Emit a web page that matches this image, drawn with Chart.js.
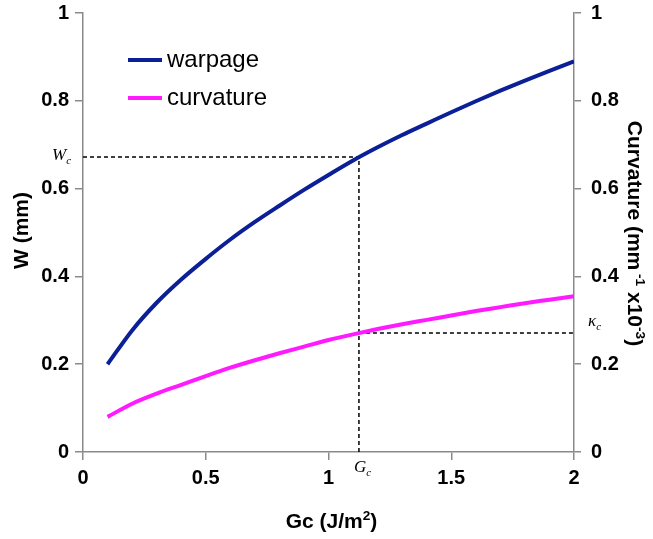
<!DOCTYPE html>
<html lang="en">
<head>
    <meta charset="UTF-8">
    <title>Warpage and curvature vs Gc</title>
    <script src="https://cdn.jsdelivr.net/npm/chart.js"></script>
    <style>
        body { margin: 0; background: #fff; }
    </style>
</head>
<body>
    <canvas id="gcChart" width="653" height="539"></canvas>

    <script>
        // values
        const gc = [0.1, 0.2, 0.3, 0.4, 0.5, 0.6, 0.7, 0.8, 0.9, 1.0,
                    1.1, 1.2, 1.3, 1.4, 1.5, 1.6, 1.7, 1.8, 1.9, 2.0];
        const warpage = [0.20, 0.277, 0.34, 0.393, 0.44, 0.484, 0.524, 0.561, 0.597, 0.631,
                         0.664, 0.694, 0.722, 0.748, 0.774, 0.799, 0.823, 0.846, 0.868, 0.89];
        const curvature = [0.08, 0.11, 0.133, 0.153, 0.173, 0.192, 0.209, 0.225, 0.24, 0.255,
                           0.268, 0.28, 0.291, 0.301, 0.311, 0.321, 0.33, 0.339, 0.347, 0.355];
        const xTicks = [0, 0.5, 1, 1.5, 2];
        const yTicks = [0, 0.2, 0.4, 0.6, 0.8, 1];

        // critical point markers
        const gcCrit = 1.124;
        const wCrit = 0.672;
        const kCrit = 0.271;

        const FONT = 'Arial, "Liberation Sans", sans-serif';
        const SERIF = '"Times New Roman", "Liberation Serif", serif';

        function toPoints(xs, ys) {
            return xs.map((x, i) => ({ x: x, y: ys[i] }));
        }

        function fixTicks(values) {
            return function (scale) {
                scale.ticks = values.map(v => ({ value: v }));
            };
        }

        function tickLabel(v) {
            return String(v);
        }

        // draw text with super/subscript parts: [[text, 'sup'|'sub'|null], ...]
        function drawRich(ctx, parts, x, y, size, weight, family, align) {
            let total = 0;
            parts.forEach(p => {
                ctx.font = weight + ' ' + (p[1] ? size * 0.65 : size) + 'px ' + family;
                total += ctx.measureText(p[0]).width;
            });
            let cx = align === 'center' ? x - total / 2 : x;
            ctx.textAlign = 'left';
            ctx.textBaseline = 'alphabetic';
            parts.forEach(p => {
                const s = p[1] ? size * 0.65 : size;
                ctx.font = weight + ' ' + s + 'px ' + family;
                let dy = 0;
                if (p[1] === 'sup') dy = -size * 0.4;
                if (p[1] === 'sub') dy = size * 0.22;
                ctx.fillText(p[0], cx, y + dy);
                cx += ctx.measureText(p[0]).width;
            });
        }

        const extras = {
            id: 'extras',
            afterDraw(chart) {
                const ctx = chart.ctx;
                const a = chart.chartArea;
                const sx = chart.scales.x, sy = chart.scales.y, sy2 = chart.scales.y2;
                ctx.save();
                ctx.fillStyle = '#000';

                // axis titles
                drawRich(ctx, [['Gc (J/m', null], ['2', 'sup'], [')', null]],
                         (a.left + a.right) / 2 + 3, 528, 21, 'bold', FONT, 'center');

                ctx.save();
                ctx.translate(28, (a.top + a.bottom) / 2 - 2);
                ctx.rotate(-Math.PI / 2);
                drawRich(ctx, [['W (mm)', null]], 0, 0, 21, 'bold', FONT, 'center');
                ctx.restore();

                ctx.save();
                ctx.translate(628, (a.top + a.bottom) / 2 + 1);
                ctx.rotate(Math.PI / 2);
                drawRich(ctx, [['Curvature (mm', null], [' -1', 'sup'], [' x10', null], ['-3', 'sup'], [')', null]],
                         0, 0, 21, 'bold', FONT, 'center');
                ctx.restore();

                // legend
                const legendRows = chart.data.datasets.filter(d => d.inLegend);
                legendRows.forEach((d, i) => {
                    const ly = a.top + 47 + i * 38;
                    ctx.strokeStyle = d.borderColor;
                    ctx.lineWidth = 4;
                    ctx.beginPath();
                    ctx.moveTo(a.left + 45, ly);
                    ctx.lineTo(a.left + 79, ly);
                    ctx.stroke();
                    ctx.font = '24px ' + FONT;
                    ctx.textAlign = 'left';
                    ctx.textBaseline = 'middle';
                    ctx.fillStyle = '#000';
                    ctx.fillText(d.label, a.left + 84, ly);
                });

                // critical labels
                drawRich(ctx, [['W', null], ['c', 'sub']], a.left - 31, sy.getPixelForValue(wCrit) + 3, 17, 'italic', SERIF, 'left');
                drawRich(ctx, [['G', null], ['c', 'sub']], sx.getPixelForValue(gcCrit) - 5, a.bottom + 20, 17, 'italic', SERIF, 'left');
                drawRich(ctx, [['\u03BA', null], ['c', 'sub']], a.right + 14, sy2.getPixelForValue(kCrit) - 7, 17, 'italic', SERIF, 'left');

                ctx.restore();
            }
        };

        const ctx = document.getElementById('gcChart').getContext('2d');
        const chart = new Chart(ctx, {
            type: 'line',
            data: {
                datasets: [{
                    label: 'warpage',
                    inLegend: true,
                    data: toPoints(gc, warpage),
                    borderColor: '#0b1f96',
                    borderWidth: 4,
                    pointRadius: 0,
                    cubicInterpolationMode: 'monotone',
                    yAxisID: 'y'
                }, {
                    label: 'curvature',
                    inLegend: true,
                    data: toPoints(gc, curvature),
                    borderColor: '#ff1aff',
                    borderWidth: 4,
                    pointRadius: 0,
                    cubicInterpolationMode: 'monotone',
                    yAxisID: 'y2'
                }, {
                    label: 'Wc',
                    data: [{ x: 0, y: wCrit }, { x: gcCrit, y: wCrit }, { x: gcCrit, y: 0 }],
                    borderColor: '#000',
                    borderWidth: 1.5,
                    borderDash: [4, 3],
                    pointRadius: 0,
                    tension: 0,
                    yAxisID: 'y'
                }, {
                    label: 'kc',
                    data: [{ x: gcCrit, y: kCrit }, { x: 2, y: kCrit }],
                    borderColor: '#000',
                    borderWidth: 1.5,
                    borderDash: [4, 3],
                    pointRadius: 0,
                    tension: 0,
                    yAxisID: 'y2'
                }]
            },
            options: {
                responsive: false,
                animation: false,
                layout: { padding: { top: 13, left: 0, right: 0, bottom: 0 } },
                plugins: {
                    legend: { display: false },
                    tooltip: { enabled: false }
                },
                scales: {
                    x: {
                        type: 'linear',
                        position: 'bottom',
                        min: 0,
                        max: 2,
                        afterBuildTicks: fixTicks(xTicks),
                        afterFit(s) { s.height = 87; },
                        ticks: {
                            color: '#000',
                            font: { family: FONT, size: 20, weight: 'bold' },
                            padding: 6,
                            maxRotation: 0,
                            callback: tickLabel
                        },
                        grid: { drawOnChartArea: false, tickLength: 8, color: '#8a8a8a', lineWidth: 1.5 },
                        border: { color: '#8a8a8a', width: 1.5 }
                    },
                    y: {
                        position: 'left',
                        min: 0,
                        max: 1,
                        afterBuildTicks: fixTicks(yTicks),
                        afterFit(s) { s.width = 83; s.paddingTop = 0; s.paddingBottom = 0; },
                        ticks: {
                            color: '#000',
                            font: { family: FONT, size: 20, weight: 'bold' },
                            padding: 6,
                            callback: tickLabel
                        },
                        grid: { drawOnChartArea: false, tickLength: 8, color: '#8a8a8a', lineWidth: 1.5 },
                        border: { color: '#8a8a8a', width: 1.5 }
                    },
                    y2: {
                        position: 'right',
                        min: 0,
                        max: 1,
                        afterBuildTicks: fixTicks(yTicks),
                        afterFit(s) { s.width = 79; s.paddingTop = 0; s.paddingBottom = 0; },
                        ticks: {
                            color: '#000',
                            font: { family: FONT, size: 20, weight: 'bold' },
                            padding: 10,
                            callback: tickLabel
                        },
                        grid: { drawOnChartArea: false, tickLength: 7, color: '#8a8a8a', lineWidth: 1.5 },
                        border: { color: '#8a8a8a', width: 1.5 }
                    }
                }
            },
            plugins: [extras]
        });
    </script>
</body>
</html>
